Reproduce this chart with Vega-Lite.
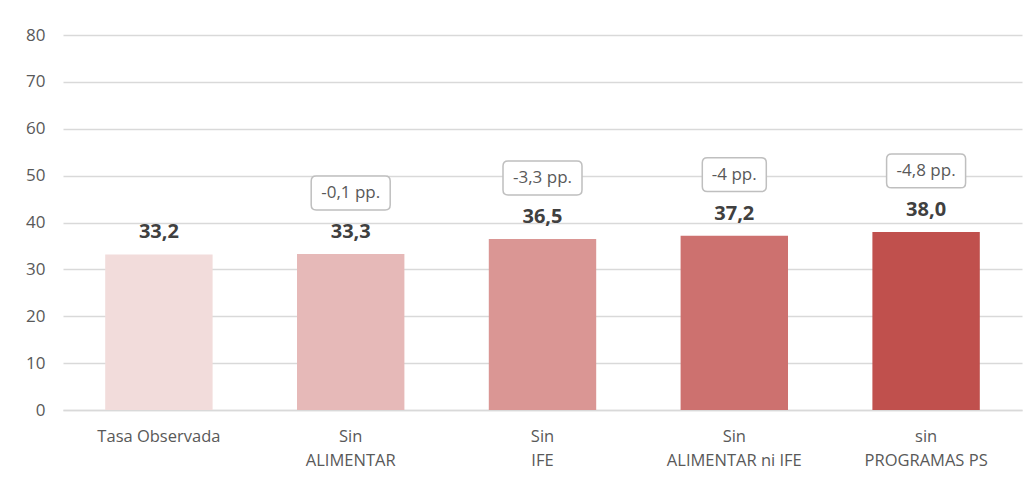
{
  "$schema": "https://vega.github.io/schema/vega-lite/v6.json",
  "width": 959,
  "height": 375,
  "autosize": {"type": "none"},
  "padding": {"left": 63, "top": 35, "right": 12, "bottom": 67},
  "background": "white",
  "config": {"view": {"stroke": null}, "font": "Open Sans"},
  "data": {
    "values": [
      {"cat": "Tasa Observada", "value": 33.2, "label": "33,2", "note": null},
      {"cat": "Sin|ALIMENTAR", "value": 33.3, "label": "33,3", "note": "-0,1 pp."},
      {"cat": "Sin|IFE", "value": 36.5, "label": "36,5", "note": "-3,3 pp."},
      {"cat": "Sin|ALIMENTAR ni IFE", "value": 37.2, "label": "37,2", "note": "-4 pp."},
      {"cat": "sin|PROGRAMAS PS", "value": 38.0, "label": "38,0", "note": "-4,8 pp."}
    ]
  },
  "encoding": {
    "x": {
      "field": "cat",
      "type": "nominal",
      "sort": null,
      "scale": {"paddingInner": 0.44, "paddingOuter": 0.22},
      "axis": {
        "title": null,
        "labelAngle": 0,
        "labelExpr": "split(datum.value, '|')",
        "labelFontSize": 16.5,
        "labelColor": "#595959",
        "labelLineHeight": 24,
        "labelPadding": 18,
        "ticks": false,
        "domainColor": "#D9D9D9",
        "domainWidth": 1.5
      }
    },
    "y": {
      "field": "value",
      "type": "quantitative",
      "scale": {"domain": [0, 80]},
      "axis": {
        "title": null,
        "values": [0, 10, 20, 30, 40, 50, 60, 70, 80],
        "labelFontSize": 17,
        "labelColor": "#595959",
        "labelPadding": 18,
        "ticks": false,
        "domain": false,
        "gridColor": "#D9D9D9",
        "gridWidth": 1.5
      }
    }
  },
  "layer": [
    {
      "mark": {"type": "bar"},
      "encoding": {
        "color": {
          "field": "cat",
          "type": "nominal",
          "scale": {
            "domain": ["Tasa Observada", "Sin|ALIMENTAR", "Sin|IFE", "Sin|ALIMENTAR ni IFE", "sin|PROGRAMAS PS"],
            "range": ["#F2DCDB", "#E6B9B8", "#DA9694", "#CD716F", "#C0504D"]
          },
          "legend": null
        }
      }
    },
    {
      "mark": {"type": "text", "dy": -22, "fontSize": 20, "fontWeight": "bold", "color": "#404040", "baseline": "middle"},
      "encoding": {"text": {"field": "label"}}
    },
    {
      "transform": [{"filter": "datum.note != null && datum.note != '-4 pp.'"}],
      "mark": {
        "type": "point",
        "filled": true,
        "fill": "white",
        "stroke": "#BFBFBF",
        "strokeWidth": 1.5,
        "opacity": 1,
        "size": 6241,
        "yOffset": -61,
        "shape": "M-0.873,-0.43 L0.873,-0.43 Q1,-0.43 1,-0.304 L1,0.304 Q1,0.43 0.873,0.43 L-0.873,0.43 Q-1,0.43 -1,0.304 L-1,-0.304 Q-1,-0.43 -0.873,-0.43 Z"
      }
    },
    {
      "transform": [{"filter": "datum.note == '-4 pp.'"}],
      "mark": {
        "type": "point",
        "filled": true,
        "fill": "white",
        "stroke": "#BFBFBF",
        "strokeWidth": 1.5,
        "opacity": 1,
        "size": 4096,
        "yOffset": -61,
        "shape": "M-0.844,-0.53 L0.844,-0.53 Q1,-0.53 1,-0.374 L1,0.374 Q1,0.53 0.844,0.53 L-0.844,0.53 Q-1,0.53 -1,0.374 L-1,-0.374 Q-1,-0.53 -0.844,-0.53 Z"
      }
    },
    {
      "transform": [{"filter": "datum.note != null"}],
      "mark": {"type": "text", "dy": -61, "fontSize": 17, "color": "#595959", "baseline": "middle"},
      "encoding": {"text": {"field": "note"}}
    }
  ]
}
